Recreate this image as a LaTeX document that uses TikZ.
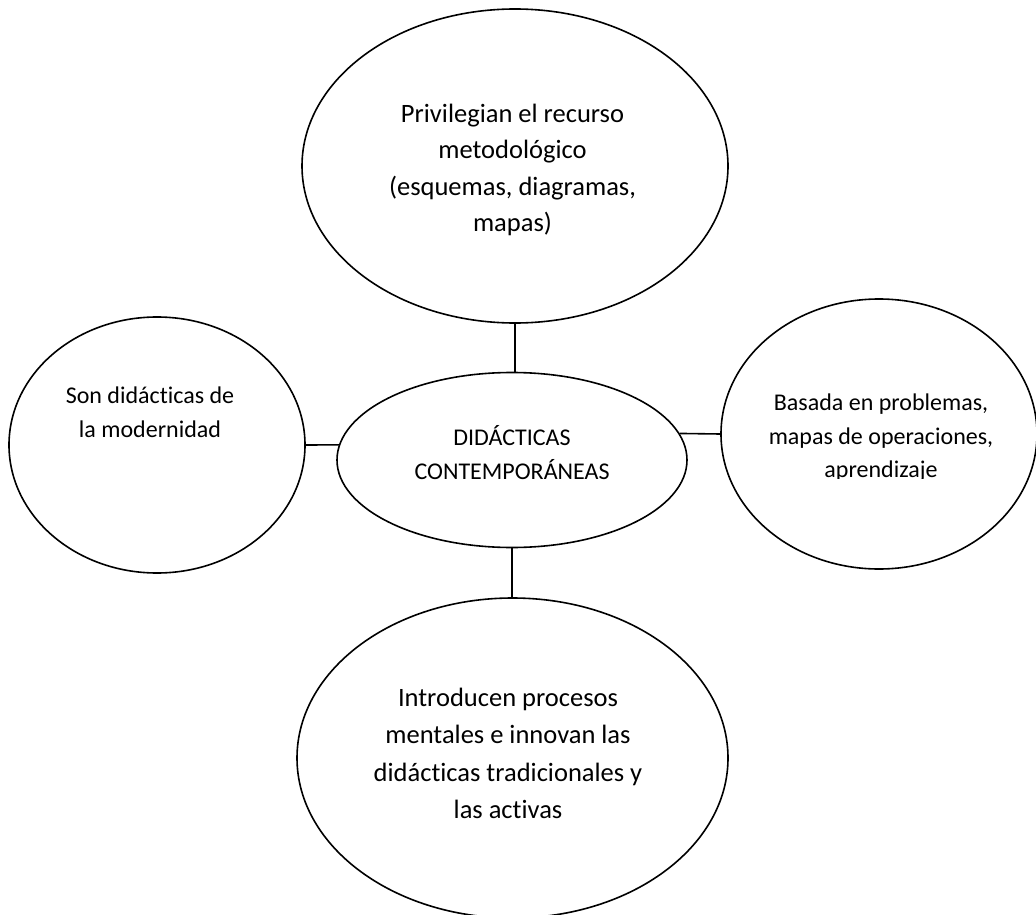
\documentclass[tikz,border=0pt]{standalone}
\usepackage{fontspec}
\setmainfont{Carlito}[Ligatures=NoCommon]
\usetikzlibrary{shapes.geometric}
\begin{document}
\begin{tikzpicture}[x=1pt,y=-1pt,
  bubble/.style={draw=black, line width=1.6pt, ellipse, inner sep=0pt},
  txt/.style={align=center, inner sep=0pt, text=black},
  link/.style={draw=black, line width=1.6pt}]
\useasboundingbox (0,0) rectangle (1036,915);
\fill[white] (0,0) rectangle (1036,915);
\begin{scope}
\clip (0,0) rectangle (1036,915);
% ellipses
\node[bubble, minimum width=426pt, minimum height=314pt] (top) at (515,166) {};
\node[bubble, minimum width=350pt, minimum height=175pt] (mid) at (512,460) {};
\node[bubble, minimum width=296pt, minimum height=256pt] (left) at (157,445) {};
\node[bubble, minimum width=316pt, minimum height=270pt] (right) at (879,434) {};
\node[bubble, minimum width=431pt, minimum height=320pt] (bot) at (512.5,758) {};
% texts
\node[txt, font=\fontsize{26.5}{36.5}\selectfont] (toptxt) at (512.5,170)
  {Privilegian el recurso\\metodológico\\(esquemas, diagramas,\\mapas)};
\node[txt, font=\fontsize{24}{34}\selectfont] (midtxt) at (512,452.5)
  {DIDÁCTICAS\\CONTEMPORÁNEAS};
\node[txt, font=\fontsize{24}{34}\selectfont] (lefttxt) at (150,412.5)
  {Son didácticas de\\la modernidad};
\begin{scope}
\clip (700,0) rectangle (1036,478);
\node[txt, font=\fontsize{24}{33.5}\selectfont] (righttxt) at (881,438)
  {Basada en problemas,\\mapas de operaciones,\\aprendizaje};
\end{scope}
\node[txt, font=\fontsize{26.5}{37.3}\selectfont] (bottxt) at (508,753.5)
  {Introducen procesos\\mentales e innovan las\\didácticas tradicionales y\\las activas};
% connectors
\draw[link] (top.south) -- (top.south |- mid.north);
\draw[link] (mid.south) -- (mid.south |- bot.north);
\draw[link] (left.east) -- (mid.175);
\draw[link] (right.west) -- (mid.9);
\end{scope}
\end{tikzpicture}
\end{document}
